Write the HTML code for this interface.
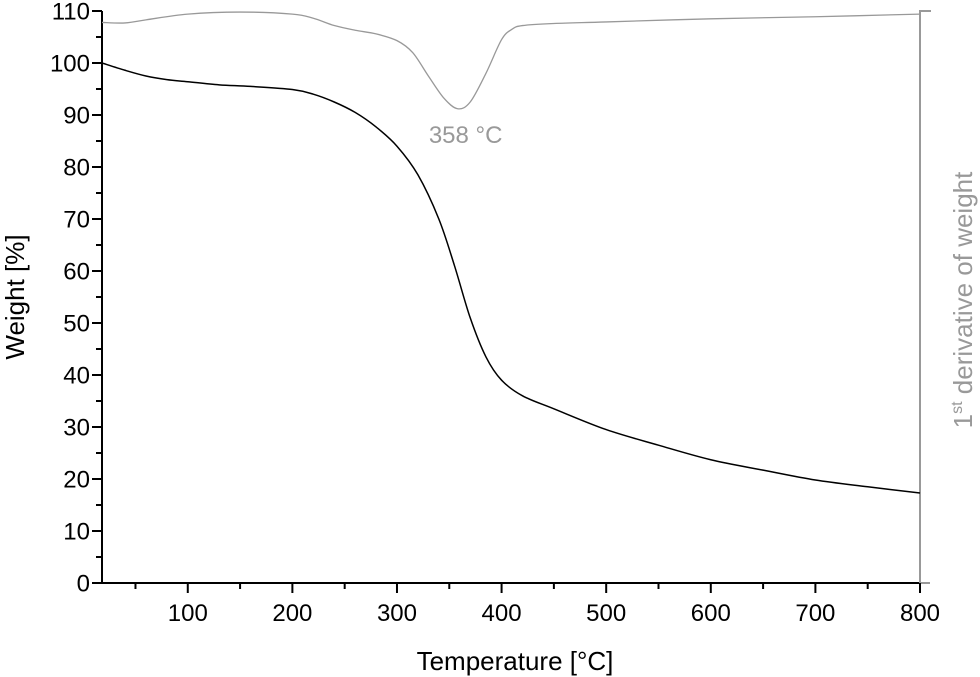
<!DOCTYPE html>
<html><head><meta charset="utf-8"><style>
html,body{margin:0;padding:0;background:#fff;}
svg{display:block;font-family:"Liberation Sans",Arial,sans-serif;}
</style></head><body>
<svg id="c" width="980" height="677" viewBox="0 0 980 677"></svg>
<script>
const temps = [18,40,60,80,100,130,160,200,220,240,260,280,300,320,340,355,370,385,400,420,450,500,550,600,650,700,750,800];
const weight = [100,98.6,97.5,96.8,96.4,95.8,95.5,94.9,94,92.5,90.5,87.7,84,78.5,70,61,51,43.5,39,36,33.5,29.5,26.5,23.7,21.7,19.8,18.5,17.3];
const dTemps = [18,40,60,100,150,200,220,240,260,280,300,315,330,345,358,370,385,400,410,420,450,500,600,700,800];
const deriv = [107.8,107.7,108.3,109.4,109.8,109.4,108.6,107.2,106.3,105.6,104.3,102,97.5,93.2,91.2,92.5,98,104.5,106.5,107.2,107.6,107.9,108.5,108.9,109.4];
const xTicks = [100,200,300,400,500,600,700,800];
const yTicks = [0,10,20,30,40,50,60,70,80,90,100,110];
const peakLabel = "358 °C";
const NS="http://www.w3.org/2000/svg";
const svg=document.getElementById('c');
const x0=102,x1=920,tmin=18,tmax=800;
const X=t=>x0+(t-tmin)*(x1-x0)/(tmax-tmin);
const Y=v=>583-v*5.2;
function el(tag,attrs,parent){const e=document.createElementNS(NS,tag);for(const k in attrs)e.setAttribute(k,attrs[k]);(parent||svg).appendChild(e);return e;}
function smooth(xs,ys){
 const P=xs.map((t,i)=>[X(t),Y(ys[i])]);
 let s='M'+P[0][0]+','+P[0][1];
 for(let i=0;i<P.length-1;i++){
  const p0=P[Math.max(0,i-1)],p1=P[i],p2=P[i+1],p3=P[Math.min(P.length-1,i+2)];
  const c1=[p1[0]+(p2[0]-p0[0])/6,p1[1]+(p2[1]-p0[1])/6];
  const c2=[p2[0]-(p3[0]-p1[0])/6,p2[1]-(p3[1]-p1[1])/6];
  s+=`C${c1[0]},${c1[1]} ${c2[0]},${c2[1]} ${p2[0]},${p2[1]}`;
 }
 return s;
}
let a=el('path',{d:`M${x0},${Y(110)}V${Y(0)}H${x1}`,stroke:'#000','stroke-width':2,fill:'none'});


let r=el('path',{d:`M${x1},${Y(0)}V${Y(110)}h11`,stroke:'#999','stroke-width':2,fill:'none'});


el('path',{d:`M${x1},${Y(0)}h10`,stroke:'#999','stroke-width':2});
yTicks.forEach(v=>{
 el('path',{d:`M${x0},${Y(v)}h-10`,stroke:'#000','stroke-width':2});
 if(v<110) el('path',{d:`M${x0},${Y(v+5)}h-6`,stroke:'#000','stroke-width':2});
 const t=el('text',{x:x0-12,y:Y(v)+8.5,'text-anchor':'end','font-size':24});
 t.textContent=v;
 
 
});
xTicks.forEach(v=>{
 el('path',{d:`M${X(v)},${Y(0)}v10`,stroke:'#000','stroke-width':2});
 el('path',{d:`M${X(v-50)},${Y(0)}v6`,stroke:'#000','stroke-width':2});
 const t=el('text',{x:X(v),y:621,'text-anchor':'middle','font-size':24});
 t.textContent=v;
 
 
});
let w=el('path',{d:smooth(temps,weight),stroke:'#000','stroke-width':1.5,fill:'none'});


let d=el('path',{d:smooth(dTemps,deriv),stroke:'#999','stroke-width':1.3,fill:'none'});


let p=el('text',{x:X(358)+8,y:143,'text-anchor':'middle','font-size':24,fill:'#999'});
p.textContent=peakLabel;


let xt=el('text',{x:515,y:670,'text-anchor':'middle','font-size':26});
xt.textContent='Temperature [°C]';


let yt=el('text',{x:0,y:0,'text-anchor':'middle','font-size':26,transform:'translate(24,297) rotate(-90)'});
yt.textContent='Weight [%]';


let rt=el('text',{x:0,y:0,'text-anchor':'middle','font-size':26,fill:'#999',transform:'translate(972,300) rotate(-90)'});
rt.innerHTML='1<tspan dy="-10" font-size="16">st</tspan><tspan dy="10"> derivative of weight</tspan>';


</script>
</body></html>
